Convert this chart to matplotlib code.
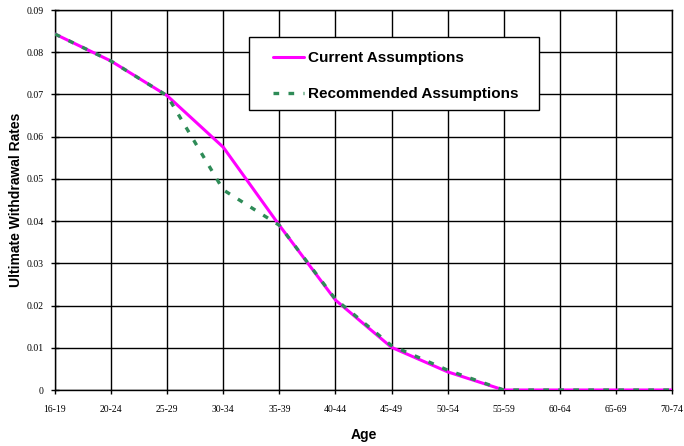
import numpy as np
import matplotlib
matplotlib.use("Agg")
import matplotlib.pyplot as plt
from matplotlib.patches import Rectangle

# --- data ---
ages = ["16-19", "20-24", "25-29", "30-34", "35-39", "40-44",
        "45-49", "50-54", "55-59", "60-64", "65-69", "70-74"]
current = [0.0843, 0.0779, 0.0697, 0.0575, 0.0390, 0.0213,
           0.0101, 0.0043, 0.0, 0.0, 0.0, 0.0]
recommended = [0.0843, 0.0779, 0.0697, 0.0474, 0.0390, 0.0215,
               0.0105, 0.0047, 0.0, 0.0, 0.0, 0.0]
yticks = [0, 0.01, 0.02, 0.03, 0.04, 0.05, 0.06, 0.07, 0.08, 0.09]
ytick_labels = ["0", "0.01", "0.02", "0.03", "0.04", "0.05",
                "0.06", "0.07", "0.08", "0.09"]

W, H = 684, 446
fig = plt.figure(figsize=(W / 100, H / 100), dpi=100)
# plot area in pixels: x 55..672, y 10..390
ax = fig.add_axes([55 / W, 1 - 390 / H, 617 / W, 380 / H])

def ax_px(px, py):
    # figure pixel (from top-left) -> axes fraction
    return (px - 55) / 617, (390 - py) / 380

x = np.arange(len(ages))
ax.plot(x, current, color="#FF00FF", lw=2.2, label="Current Assumptions",
        solid_capstyle="round", zorder=3)
ax.plot(x, recommended, color="#2E8B57", lw=2.4, ls=(0, (1.7, 2.8)),
        label="Recommended Assumptions", zorder=4)

ax.set_xlim(0, len(ages) - 1)
ax.set_ylim(0, 0.09)
ax.set_xticks(x)
ax.set_xticklabels(ages, family="Liberation Serif", fontsize=7)
ax.set_yticks(yticks)
ax.set_yticklabels(ytick_labels, family="Liberation Serif", fontsize=7)
ax.tick_params(axis="y", direction="inout", length=6, width=1, color="black", pad=5)
ax.tick_params(axis="x", direction="out", length=3, width=1, color="black", pad=8)

ax.grid(True, color="black", lw=1)
for s in ax.spines.values():
    s.set_linewidth(1)
    s.set_color("black")

ax.set_xlabel("Age", family="Liberation Sans", fontweight="bold", fontsize=10, labelpad=10)
ax.set_ylabel("Ultimate Withdrawal Rates", family="Liberation Sans",
              fontweight="bold", fontsize=10)
ax.yaxis.set_label_coords(*ax_px(23, 200))

# legend box drawn by hand so the padding matches
bx0, by0 = ax_px(249, 110)
bx1, by1 = ax_px(539, 37)
ax.add_patch(Rectangle((bx0, by0), bx1 - bx0, by1 - by0, transform=ax.transAxes,
                       facecolor="white", edgecolor="black", lw=1, zorder=6,
                       clip_on=False))
leg = ax.legend(loc="upper left", bbox_to_anchor=ax_px(273, 51),
                prop={"family": "Liberation Sans", "weight": "bold", "size": 11},
                frameon=False, borderpad=0, handlelength=2.0, handletextpad=0.3,
                labelspacing=1.45, borderaxespad=0)
leg.set_zorder(7)

fig.savefig("out.png", dpi=100)
